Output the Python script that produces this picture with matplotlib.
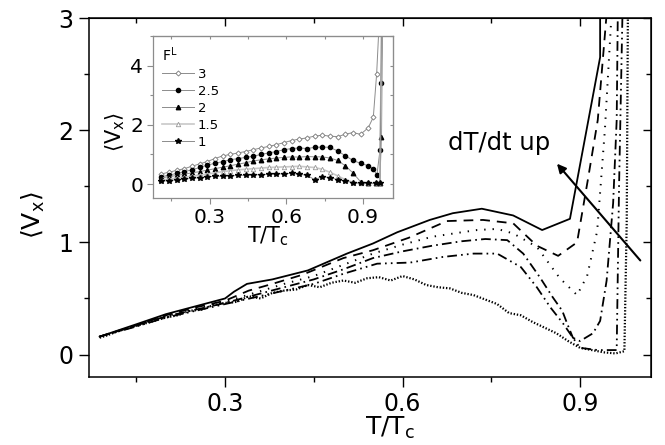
import matplotlib
matplotlib.use('Agg')
import matplotlib.pyplot as plt
from matplotlib.ticker import MultipleLocator

plt.rcParams['font.family'] = 'DejaVu Sans'
plt.rcParams['mathtext.fontset'] = 'dejavusans'
plt.rcParams['lines.scale_dashes'] = False

# main panel: <Vx> vs T/Tc for increasing dT/dt
x1 = [0.088, 0.15, 0.20, 0.25, 0.30, 0.315, 0.337, 0.38, 0.44, 0.506, 0.55, 0.591,
      0.646, 0.685, 0.734, 0.787, 0.836, 0.883, 0.934, 0.934]
y1 = [0.16, 0.27, 0.36, 0.43, 0.50, 0.56, 0.63, 0.67, 0.75, 0.90, 0.99, 1.09,
      1.20, 1.26, 1.30, 1.24, 1.11, 1.21, 2.65, 3.1]

x2 = [0.088, 0.15, 0.20, 0.25, 0.30, 0.34, 0.38, 0.43, 0.50, 0.55, 0.61, 0.675,
      0.736, 0.787, 0.827, 0.863, 0.895, 0.913, 0.93, 0.946]
y2 = [0.16, 0.26, 0.35, 0.42, 0.48, 0.57, 0.63, 0.71, 0.86, 0.93, 1.04, 1.19,
      1.20, 1.17, 0.97, 0.88, 1.00, 1.55, 2.09, 3.1]

x3 = [0.088, 0.15, 0.20, 0.25, 0.30, 0.35, 0.40, 0.45, 0.50, 0.55, 0.60, 0.65,
      0.70, 0.726, 0.76, 0.787, 0.827, 0.866, 0.895, 0.912, 0.929, 0.942, 0.954]
y3 = [0.16, 0.26, 0.34, 0.41, 0.47, 0.55, 0.63, 0.70, 0.80, 0.90, 0.98, 1.05,
      1.09, 1.11, 1.12, 1.08, 0.96, 0.68, 0.53, 0.70, 1.10, 2.0, 3.1]

x4 = [0.088, 0.15, 0.20, 0.25, 0.30, 0.35, 0.40, 0.45, 0.50, 0.55, 0.60, 0.65,
      0.70, 0.74, 0.777, 0.804, 0.832, 0.854, 0.87, 0.878, 0.888, 0.90, 0.922,
      0.934, 0.945, 0.956, 0.962, 0.964]
y4 = [0.16, 0.26, 0.34, 0.40, 0.46, 0.53, 0.60, 0.67, 0.76, 0.86, 0.92, 0.97,
      1.01, 1.03, 1.02, 0.90, 0.69, 0.51, 0.39, 0.28, 0.15, 0.12, 0.19,
      0.30, 0.66, 1.35, 2.09, 3.1]

x5 = [0.088, 0.15, 0.20, 0.25, 0.30, 0.35, 0.40, 0.45, 0.50, 0.557, 0.613, 0.668,
      0.72, 0.76, 0.80, 0.827, 0.85, 0.871, 0.888, 0.90, 0.93, 0.962, 0.966, 0.972]
y5 = [0.16, 0.25, 0.33, 0.39, 0.45, 0.51, 0.57, 0.63, 0.72, 0.81, 0.82, 0.87,
      0.90, 0.90, 0.78, 0.60, 0.42, 0.28, 0.15, 0.06, 0.04, 0.04, 1.5, 3.1]

x6 = [0.088, 0.10, 0.12, 0.14, 0.16, 0.18, 0.20, 0.22, 0.24, 0.26, 0.28, 0.30,
      0.32, 0.34, 0.36, 0.38, 0.40, 0.42, 0.44, 0.46, 0.48, 0.50, 0.52, 0.54,
      0.56, 0.58, 0.60, 0.62, 0.64, 0.66, 0.68, 0.70, 0.72, 0.74, 0.76, 0.78,
      0.80, 0.82, 0.84, 0.86, 0.88, 0.90, 0.92, 0.94, 0.96, 0.975, 0.979, 0.981]
y6 = [0.15, 0.17, 0.21, 0.24, 0.27, 0.30, 0.33, 0.35, 0.39, 0.40, 0.44, 0.46,
      0.47, 0.52, 0.50, 0.55, 0.57, 0.58, 0.62, 0.60, 0.64, 0.66, 0.64, 0.68,
      0.69, 0.66, 0.70, 0.67, 0.62, 0.60, 0.59, 0.55, 0.53, 0.49, 0.45, 0.37,
      0.35, 0.29, 0.24, 0.19, 0.12, 0.06, 0.04, 0.02, 0.01, 0.03, 1.2, 3.1]

# inset: <Vx> vs T/Tc for several F^L
xi_grid = [0.11, 0.14, 0.17, 0.20, 0.23, 0.26, 0.29, 0.32, 0.35, 0.38, 0.41, 0.44,
           0.47, 0.50, 0.53, 0.56, 0.59, 0.62, 0.65, 0.68, 0.71, 0.74, 0.77, 0.80,
           0.83, 0.86, 0.89, 0.92]
fl_labels = ['3', '2.5', '2', '1.5', '1']
xi_3 = xi_grid + [0.94, 0.953, 0.962]
yi_3 = [0.34, 0.40, 0.46, 0.52, 0.60, 0.68, 0.76, 0.86, 0.95, 1.00, 1.05, 1.10,
        1.16, 1.22, 1.27, 1.33, 1.40, 1.47, 1.52, 1.56, 1.62, 1.65, 1.62, 1.60,
        1.68, 1.74, 1.68, 1.90, 2.26, 3.72, 5.3]
xi_25 = xi_grid + [0.94, 0.954, 0.966, 0.969, 0.977]
yi_25 = [0.25, 0.30, 0.36, 0.42, 0.48, 0.56, 0.64, 0.70, 0.76, 0.82, 0.86, 0.90,
         0.94, 1.00, 1.05, 1.10, 1.16, 1.20, 1.22, 1.20, 1.24, 1.25, 1.24, 1.12,
         0.96, 0.80, 0.70, 0.62, 0.52, 0.30, 1.14, 3.4, 5.3]
xi_2 = xi_grid + [0.95, 0.965, 0.972, 0.976]
yi_2 = [0.21, 0.25, 0.29, 0.33, 0.38, 0.42, 0.47, 0.52, 0.57, 0.62, 0.67, 0.72,
        0.78, 0.82, 0.85, 0.88, 0.90, 0.92, 0.91, 0.93, 0.92, 0.92, 0.88, 0.80,
        0.62, 0.38, 0.08, 0.04, 0.03, 0.04, 1.59, 5.3]
xi_15 = xi_grid + [0.95, 0.966, 0.972]
yi_15 = [0.14, 0.17, 0.20, 0.23, 0.27, 0.30, 0.34, 0.38, 0.42, 0.45, 0.48, 0.50,
         0.52, 0.54, 0.56, 0.57, 0.58, 0.59, 0.60, 0.58, 0.56, 0.50, 0.40, 0.28,
         0.15, 0.06, 0.03, 0.02, 0.02, 0.03, 5.3]
xi_1 = xi_grid + [0.95, 0.966, 0.972]
yi_1 = [0.10, 0.12, 0.14, 0.17, 0.19, 0.22, 0.25, 0.26, 0.27, 0.28, 0.29, 0.30,
        0.31, 0.32, 0.33, 0.34, 0.35, 0.36, 0.33, 0.30, 0.15, 0.25, 0.22, 0.15,
        0.10, 0.05, 0.03, 0.02, 0.02, 0.05, 5.3]

arrow_tip = (0.858, 1.72)
arrow_tail = (1.005, 0.82)

fig = plt.figure(figsize=(6.65, 4.45), dpi=100)
ax = fig.add_axes([89/665, 68/445, 562/665, 359/445])

ax.plot(x1, y1, color='k', lw=1.3, ls='-')
ax.plot(x2, y2, color='k', lw=1.3, ls=(0, (7, 5)))
ax.plot(x3, y3, color='k', lw=1.4, ls=(0, (1, 5)))
ax.plot(x4, y4, color='k', lw=1.3, ls=(0, (7, 3, 1.2, 3)))
ax.plot(x5, y5, color='k', lw=1.3, ls=(0, (7, 3, 1.2, 3, 1.2, 3)))
ax.plot(x6, y6, color='k', lw=1.6, ls=(0, (1, 1.3)))

ax.annotate('', xy=arrow_tip, xytext=arrow_tail,
            arrowprops=dict(arrowstyle='-|>', lw=1.5, color='k', mutation_scale=13))
ax.text(0.677, 1.82, 'dT/dt up', fontsize=17.5, ha='left', va='baseline')

ax.set_xlim(0.07, 1.02)
ax.set_ylim(-0.2, 3)
ax.set_xticks([0.3, 0.6, 0.9])
ax.set_yticks([0, 1, 2, 3])
ax.xaxis.set_minor_locator(MultipleLocator(0.15))
ax.yaxis.set_minor_locator(MultipleLocator(0.5))
ax.tick_params(which='both', direction='out', labelsize=17, pad=4, width=1)
ax.tick_params(which='major', length=7)
ax.tick_params(which='minor', length=3.5)
for s in ax.spines.values():
    s.set_linewidth(1.1)

top = ax.secondary_xaxis('top')
top.set_xticks([0.3, 0.6, 0.9])
top.xaxis.set_minor_locator(MultipleLocator(0.15))
top.tick_params(which='both', direction='in', labeltop=False, width=1)
top.tick_params(which='major', length=6)
top.tick_params(which='minor', length=3.5)
right = ax.secondary_yaxis('right')
right.set_yticks([0, 1, 2, 3])
right.yaxis.set_minor_locator(MultipleLocator(0.5))
right.tick_params(which='both', direction='in', labelright=False, width=1)
right.tick_params(which='major', length=6)
right.tick_params(which='minor', length=3.5)

ax.set_xlabel('T/T$_\\mathrm{c}$', fontsize=18)
ax.xaxis.set_label_coords(0.536, -0.105)
ax.set_ylabel('$\\langle\\mathrm{V}_\\mathrm{x}\\rangle$', fontsize=18)
ax.yaxis.set_label_coords(-0.075, 0.45)

# inset
ax_in = fig.add_axes([153/665, 247/445, 240/665, 162/445])
grey = '#8c8c8c'
ax_in.plot(xi_3, yi_3, color=grey, lw=0.7, marker='D', ms=2.6, mfc='white',
           mec='#777777', mew=0.6, label=fl_labels[0])
ax_in.plot(xi_25, yi_25, color=grey, lw=0.7, marker='o', ms=3, mfc='k', mec='k',
           label=fl_labels[1])
ax_in.plot(xi_2, yi_2, color=grey, lw=0.7, marker='^', ms=3.2, mfc='k', mec='k',
           label=fl_labels[2])
ax_in.plot(xi_15, yi_15, color='#c8c8c8', lw=1.2, marker='^', ms=3.2, mfc='white',
           mec='#999999', mew=0.6, label=fl_labels[3])
ax_in.plot(xi_1, yi_1, color=grey, lw=0.7, marker='*', ms=4, mfc='k', mec='k',
           label=fl_labels[4])

ax_in.set_xlim(0.078, 1.017)
ax_in.set_ylim(-0.47, 5)
ax_in.set_xticks([0.3, 0.6, 0.9])
ax_in.set_yticks([0, 2, 4])
ax_in.xaxis.set_minor_locator(MultipleLocator(0.15))
ax_in.yaxis.set_minor_locator(MultipleLocator(1))
ax_in.tick_params(which='both', direction='out', labelsize=14.5, pad=3,
                  color=grey, width=0.8)
ax_in.tick_params(which='major', length=4)
ax_in.tick_params(which='minor', length=2.5)
for s in ax_in.spines.values():
    s.set_color(grey)
    s.set_linewidth(0.9)
top_in = ax_in.secondary_xaxis('top')
top_in.set_xticks([0.3, 0.6, 0.9])
top_in.xaxis.set_minor_locator(MultipleLocator(0.15))
top_in.tick_params(which='both', direction='in', labeltop=False, color=grey,
                   length=2.5, width=0.8)
top_in.spines['top'].set_color(grey)
right_in = ax_in.secondary_yaxis('right')
right_in.set_yticks([0, 2, 4])
right_in.yaxis.set_minor_locator(MultipleLocator(1))
right_in.tick_params(which='both', direction='in', labelright=False, color=grey,
                     length=2.5, width=0.8)
right_in.spines['right'].set_color(grey)

ax_in.set_xlabel('T/T$_\\mathrm{c}$', fontsize=15)
ax_in.xaxis.set_label_coords(0.48, -0.16)
ax_in.set_ylabel('$\\langle\\mathrm{V}_\\mathrm{x}\\rangle$', fontsize=15)
ax_in.yaxis.set_label_coords(-0.11, 0.41)

leg = ax_in.legend(title='F$^\\mathrm{L}$', loc='upper left', frameon=False,
                   fontsize=9.5, title_fontsize=10, handlelength=2.4,
                   handletextpad=0.3, labelspacing=0.3, borderaxespad=0.3,
                   markerscale=1.0)
leg._legend_box.align = 'left'

fig.savefig('out.png', dpi=100)
